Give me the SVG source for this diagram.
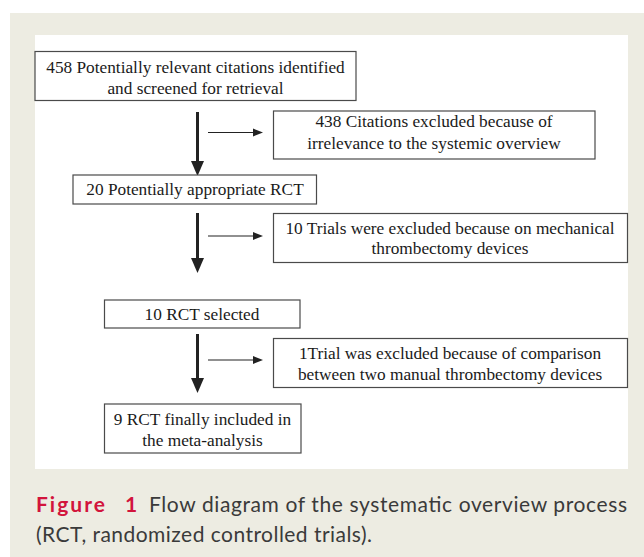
<svg xmlns="http://www.w3.org/2000/svg" width="644" height="557" viewBox="0 0 644 557">
<defs>
<style>
.box{fill:#fff;stroke:#4a4a4a;stroke-width:1.2}
.t{font-family:"Liberation Serif","Times New Roman",serif;font-size:17.3px;fill:#1a1a1a;text-anchor:middle}
.thick{stroke:#222;stroke-width:3;fill:none}
.thin{stroke:#222;stroke-width:1.2;fill:none}
.cap{font-family:"Lato","Open Sans",sans-serif;font-size:21px;fill:#3a3a3a}
.fig{fill:#d2143c;font-weight:bold;letter-spacing:2px}
</style>
<marker id="bigHead" markerUnits="userSpaceOnUse" markerWidth="16" markerHeight="14" refX="4" refY="7" orient="auto">
<path d="M0,0.5 L15,7 L0,13.5 z" fill="#222"/>
</marker>
<marker id="smallHead" markerUnits="userSpaceOnUse" markerWidth="11" markerHeight="9" refX="0" refY="4.5" orient="auto">
<path d="M0,0.5 L10,4.5 L0,8.5 z" fill="#222"/>
</marker>
</defs>
<rect x="10" y="13" width="634" height="544" fill="#edece2"/>
<rect x="35" y="35" width="593" height="434" fill="#fff"/>
<g id="connectors">
<line class="thick" x1="197.5" y1="112" x2="197.5" y2="165" marker-end="url(#bigHead)"/>
<line class="thin" x1="208" y1="132.5" x2="253" y2="132.5" marker-end="url(#smallHead)"/>
<line class="thick" x1="197.5" y1="213" x2="197.5" y2="262" marker-end="url(#bigHead)"/>
<line class="thin" x1="208" y1="236" x2="253" y2="236" marker-end="url(#smallHead)"/>
<line class="thick" x1="197.5" y1="334" x2="197.5" y2="382" marker-end="url(#bigHead)"/>
<line class="thin" x1="208" y1="360" x2="253" y2="360" marker-end="url(#smallHead)"/>
</g>
<g id="n1">
<rect class="box" x="35" y="51.5" width="321" height="49"/>
<text class="t" x="195.5" y="73">458 Potentially relevant citations identified</text>
<text class="t" x="195.5" y="93.5">and screened for retrieval</text>
</g>
<g id="n2">
<rect class="box" x="273.5" y="111" width="321.5" height="48"/>
<text class="t" x="434" y="127">438 Citations excluded because of</text>
<text class="t" x="434" y="149">irrelevance to the systemic overview</text>
</g>
<g id="n3">
<rect class="box" x="73" y="175" width="243.5" height="29"/>
<text class="t" x="195" y="195">20 Potentially appropriate RCT</text>
</g>
<g id="n4">
<rect class="box" x="273.5" y="213.5" width="354" height="49"/>
<text class="t" x="450" y="233.5">10 Trials were excluded because on mechanical</text>
<text class="t" x="450" y="254">thrombectomy devices</text>
</g>
<g id="n5">
<rect class="box" x="104.5" y="300" width="195.5" height="28"/>
<text class="t" x="202" y="320">10 RCT selected</text>
</g>
<g id="n6">
<rect class="box" x="273.5" y="338.5" width="354" height="49"/>
<text class="t" x="450" y="358.5">1Trial was excluded because of comparison</text>
<text class="t" x="450" y="379.5">between two manual thrombectomy devices</text>
</g>
<g id="n7">
<rect class="box" x="104.5" y="404" width="196.5" height="49"/>
<text class="t" x="202.5" y="425">9 RCT finally included in</text>
<text class="t" x="202.5" y="445.5">the meta-analysis</text>
</g>
<g id="caption">
<text class="cap fig" x="36" y="511.5">Figure</text>
<text class="cap fig" x="125" y="511.5">1</text>
<text class="cap" x="149" y="511.5" textLength="478" lengthAdjust="spacing">Flow diagram of the systematic overview process</text>
<text class="cap" x="36" y="541.5" textLength="336" lengthAdjust="spacing">(RCT, randomized controlled trials).</text>
</g>
</svg>
